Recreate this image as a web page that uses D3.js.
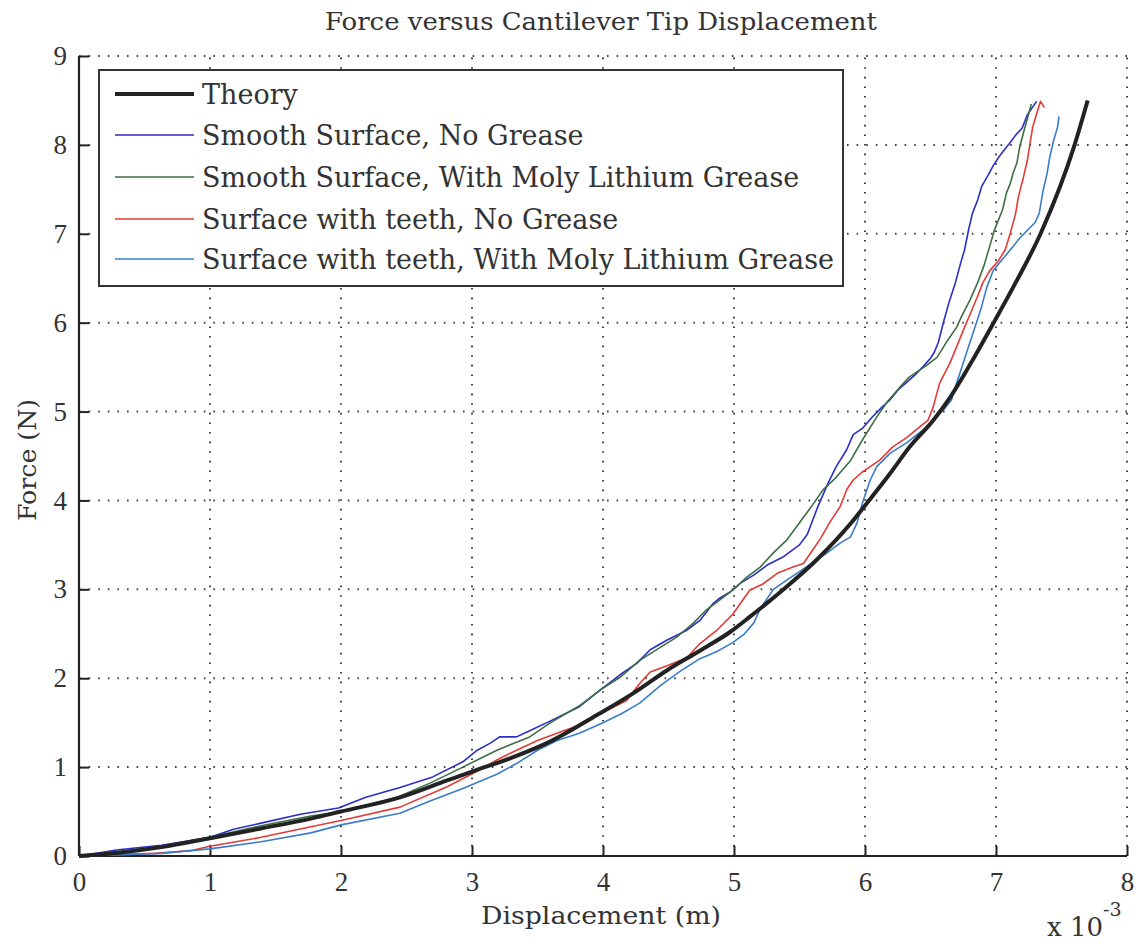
<!DOCTYPE html>
<html><head><meta charset="utf-8">
<script src="https://cdn.jsdelivr.net/npm/d3@7"></script>
<style>
body{margin:0;background:#fff;}
svg{display:block;font-family:"DejaVu Serif",serif;}
</style></head><body>
<svg id="c" width="1137" height="945"></svg>
<script>
// Displacement in units of 1e-3 m, Force in N
const xTicks = [0,1,2,3,4,5,6,7,8];
const yTicks = [0,1,2,3,4,5,6,7,8,9];
const seriesNames = ["Theory","Smooth Surface, No Grease","Smooth Surface, With Moly Lithium Grease","Surface with teeth, No Grease","Surface with teeth, With Moly Lithium Grease"];

const theoryX = [0,0.32,0.63,1.0,1.39,1.77,2.0,2.45,2.81,3.0,3.31,3.6,3.97,4.23,4.49,4.74,4.97,5.12,5.37,5.63,5.89,6.02,6.19,6.34,6.52,6.65,6.83,6.99,7.15,7.34,7.6,7.7];
const theoryY = [0,0.04,0.10,0.2,0.31,0.42,0.5,0.66,0.85,0.95,1.11,1.29,1.6,1.83,2.09,2.31,2.52,2.69,2.99,3.33,3.74,3.98,4.30,4.60,4.90,5.16,5.60,6.02,6.45,7.0,8.0,8.5];

const smoothNoX = [0,0.3,0.63,1.0,1.18,1.39,1.69,1.98,2.19,2.45,2.70,2.93,3.04,3.14,3.21,3.34,3.44,3.60,3.82,3.98,4.15,4.26,4.36,4.49,4.64,4.74,4.84,4.89,4.97,5.05,5.15,5.25,5.37,5.50,5.56,5.64,5.72,5.78,5.86,5.91,5.98,6.05,6.13,6.19,6.25,6.32,6.38,6.44,6.50,6.53,6.56,6.60,6.64,6.69,6.73,6.76,6.79,6.82,6.86,6.89,6.94,6.98,7.03,7.11,7.15,7.20,7.24,7.31];
const smoothNoY = [0,0.07,0.12,0.21,0.30,0.37,0.47,0.54,0.66,0.77,0.89,1.06,1.19,1.27,1.34,1.34,1.41,1.52,1.68,1.87,2.06,2.17,2.32,2.43,2.54,2.65,2.84,2.90,2.97,3.07,3.16,3.27,3.36,3.50,3.62,3.93,4.20,4.38,4.57,4.74,4.81,4.93,5.05,5.13,5.24,5.33,5.41,5.50,5.60,5.67,5.78,6.01,6.22,6.45,6.67,6.82,7.04,7.23,7.38,7.53,7.66,7.77,7.88,8.03,8.11,8.19,8.34,8.49];

const smoothMolyX = [0,0.3,0.63,1.0,1.39,1.77,2.0,2.43,2.68,2.93,3.19,3.44,3.60,3.82,3.98,4.13,4.28,4.44,4.56,4.69,4.79,4.89,4.99,5.10,5.20,5.30,5.40,5.50,5.60,5.68,5.78,5.89,5.98,6.09,6.17,6.27,6.34,6.47,6.55,6.63,6.70,6.74,6.80,6.86,6.91,6.95,6.99,7.05,7.08,7.11,7.13,7.16,7.18,7.21,7.24,7.27];
const smoothMolyY = [0,0.05,0.11,0.21,0.34,0.45,0.50,0.66,0.82,1.00,1.19,1.34,1.50,1.69,1.87,2.01,2.20,2.35,2.46,2.62,2.77,2.88,2.99,3.14,3.25,3.41,3.55,3.75,3.95,4.12,4.26,4.45,4.68,4.94,5.11,5.28,5.39,5.52,5.61,5.80,5.95,6.08,6.25,6.45,6.65,6.85,7.05,7.27,7.46,7.57,7.68,7.80,7.97,8.14,8.30,8.46];

const teethNoX = [0,0.58,0.85,1.0,1.39,1.77,2.0,2.45,2.81,3.01,3.19,3.34,3.50,3.70,3.82,3.98,4.18,4.28,4.36,4.49,4.64,4.74,4.87,4.99,5.12,5.22,5.33,5.45,5.53,5.60,5.66,5.73,5.81,5.86,5.91,5.98,6.04,6.11,6.21,6.32,6.42,6.48,6.52,6.57,6.65,6.70,6.76,6.81,6.86,6.90,6.95,7.02,7.07,7.11,7.15,7.17,7.21,7.24,7.26,7.28,7.31,7.34,7.37];
const teethNoY = [0,0.03,0.06,0.11,0.21,0.33,0.40,0.55,0.78,0.93,1.08,1.19,1.30,1.41,1.47,1.60,1.75,1.94,2.07,2.14,2.23,2.39,2.54,2.72,2.99,3.06,3.18,3.25,3.29,3.44,3.57,3.75,3.93,4.12,4.23,4.32,4.38,4.45,4.60,4.71,4.83,4.90,5.05,5.32,5.55,5.73,5.95,6.12,6.30,6.45,6.58,6.70,6.82,7.01,7.23,7.41,7.64,7.83,8.02,8.20,8.35,8.49,8.42];

const teethMolyX = [0,0.63,1.0,1.39,1.77,2.0,2.45,2.68,2.93,3.19,3.34,3.50,3.65,3.82,4.0,4.14,4.28,4.44,4.59,4.74,4.87,4.99,5.08,5.15,5.20,5.30,5.40,5.55,5.70,5.81,5.89,5.94,5.98,6.04,6.09,6.19,6.32,6.44,6.52,6.60,6.66,6.69,6.74,6.79,6.84,6.89,6.93,6.98,7.03,7.11,7.18,7.24,7.30,7.33,7.36,7.39,7.41,7.44,7.47,7.48];
const teethMolyY = [0,0.03,0.08,0.16,0.26,0.35,0.48,0.62,0.76,0.92,1.04,1.19,1.30,1.38,1.50,1.60,1.72,1.92,2.08,2.22,2.30,2.40,2.50,2.62,2.78,3.00,3.10,3.25,3.40,3.52,3.59,3.75,3.97,4.23,4.38,4.53,4.65,4.79,4.90,5.02,5.13,5.28,5.50,5.73,5.95,6.18,6.40,6.59,6.68,6.82,6.95,7.04,7.13,7.23,7.49,7.68,7.86,8.05,8.20,8.32];

const colors = ["#222222","#2c2cc6","#3c6e44","#e23b35","#3a7ccb"];
const widths = [4,1.6,1.6,1.6,1.6];

const svg = d3.select("#c");
const x = d3.scaleLinear().domain([0,8]).range([79,1127]);
const y = d3.scaleLinear().domain([0,9]).range([856,56]);

// Grid
const g = svg.append("g");
g.selectAll(".vg").data(xTicks.slice(1)).join("line")
  .attr("x1",d=>x(d)).attr("x2",d=>x(d)).attr("y1",y(0)).attr("y2",y(9))
  .attr("stroke","#444").attr("stroke-width",2).attr("stroke-dasharray","1.6,8");
g.selectAll(".hg").data(yTicks.slice(1)).join("line")
  .attr("x1",x(0)).attr("x2",x(8)).attr("y1",d=>y(d)).attr("y2",d=>y(d))
  .attr("stroke","#444").attr("stroke-width",2).attr("stroke-dasharray","1.6,8");

// Axes
const xAxis = d3.axisBottom(x).tickValues(xTicks).tickSize(-10).tickPadding(20).tickFormat(d3.format("d"));
const yAxis = d3.axisLeft(y).tickValues(yTicks).tickSize(-10).tickPadding(20).tickFormat(d3.format("d"));
const gx = svg.append("g").attr("transform",`translate(0,${y(0)})`).call(xAxis);
const gy = svg.append("g").attr("transform",`translate(${x(0)},0)`).call(yAxis);
[gx,gy].forEach(a=>{
  a.select(".domain").attr("stroke","#222").attr("stroke-width",2.2);
  a.selectAll(".tick line").attr("stroke","#222").attr("stroke-width",2);
  a.selectAll(".tick text").attr("font-size",27).attr("fill","#333")
   .attr("font-family","'Liberation Serif',serif");
});
gx.select(".domain").attr("d",`M${x(0)},0H${x(8)}`);
gy.select(".domain").attr("d",`M0,${y(0)}V${y(9)}`);
gx.selectAll(".tick text").attr("dy","0.71em").attr("y",16);
gy.selectAll(".tick text").attr("x",-12);

// Lines
const allX = [theoryX,smoothNoX,smoothMolyX,teethNoX,teethMolyX];
const allY = [theoryY,smoothNoY,smoothMolyY,teethNoY,teethMolyY];
const line = d3.line().x(d=>x(d[0])).y(d=>y(d[1]));
const smoothLine = d3.line().x(d=>x(d[0])).y(d=>y(d[1])).curve(d3.curveMonotoneX);
const order = [1,2,3,4,0];
order.forEach(i=>{
  const pts = allX[i].map((v,k)=>[v,allY[i][k]]);
  svg.append("path").datum(pts).attr("d",i===0?smoothLine:line).attr("fill","none")
    .attr("stroke",colors[i]).attr("stroke-width",widths[i]).attr("stroke-linejoin","round");
});

// helper: stretch text to a target width
function fit(sel, w){ sel.attr("textLength",w).attr("lengthAdjust","spacingAndGlyphs"); }

// Legend
const lg = svg.append("g");
lg.append("rect").attr("x",99).attr("y",70).attr("width",744).attr("height",216)
  .attr("fill","#fff").attr("stroke","#333").attr("stroke-width",2);
const rowY = [94,135,177,219,259];
const legTexts = [];
seriesNames.forEach((n,i)=>{
  lg.append("line").attr("x1",115).attr("x2",194).attr("y1",rowY[i]).attr("y2",rowY[i])
    .attr("stroke",colors[i]).attr("stroke-width",i===0?4:1.6);
  legTexts.push(lg.append("text").attr("x",202).attr("y",rowY[i]).attr("dy","0.36em")
    .attr("font-size",27).attr("fill","#333").text(n));
});
const longest = legTexts[4].node().getComputedTextLength();
const kx = 632/longest;
legTexts.forEach(t=>fit(t, t.node().getComputedTextLength()*kx));

// Titles
fit(svg.append("text").attr("x",601).attr("y",30).attr("text-anchor","middle")
  .attr("font-size",25).attr("fill","#333").text("Force versus Cantilever Tip Displacement"),552);
fit(svg.append("text").attr("x",601).attr("y",924).attr("text-anchor","middle")
  .attr("font-size",25).attr("fill","#333").text("Displacement (m)"),240);
fit(svg.append("text").attr("transform","translate(36,460) rotate(-90)").attr("text-anchor","middle")
  .attr("font-size",25).attr("fill","#333").text("Force (N)"),122);
const ex = svg.append("text").attr("x",1047).attr("y",936).attr("font-size",26).attr("fill","#333");
ex.append("tspan").text("x 10");
ex.append("tspan").attr("dy",-20).attr("font-size",19).text("-3");
</script>
</body></html>
